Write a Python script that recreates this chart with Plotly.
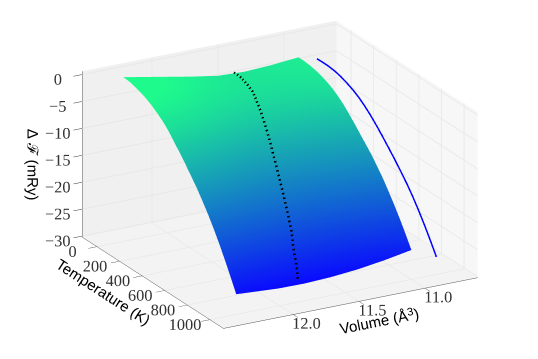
import plotly.graph_objects as go

volume = [11.0, 11.21, 11.41, 11.61, 11.81, 12.01, 12.33]
temperature = [0, 50, 100, 150, 200, 250, 300, 350, 400, 450, 500,
               550, 600, 650, 700, 750, 800, 850, 900, 950, 1000]

# one row per temperature, one column per volume
free_energy = [
    [-2.51, -2.96, -3.18, -2.96, -2.14, -1.20, 0.30],
    [-2.50, -2.95, -3.17, -2.97, -2.13, -1.22, 0.23],
    [-2.62, -3.09, -3.32, -3.12, -2.38, -1.42, -0.05],
    [-2.84, -3.32, -3.56, -3.38, -2.73, -1.70, -0.42],
    [-3.17, -3.66, -3.91, -3.80, -3.19, -2.15, -0.90],
    [-3.62, -4.13, -4.41, -4.32, -3.80, -2.75, -1.52],
    [-4.20, -4.74, -5.04, -5.02, -4.60, -3.55, -2.30],
    [-4.95, -5.51, -5.83, -5.85, -5.50, -4.45, -3.15],
    [-5.86, -6.44, -6.79, -6.88, -6.65, -5.60, -4.25],
    [-6.98, -7.60, -7.97, -8.10, -7.99, -7.04, -5.65],
    [-8.16, -8.80, -9.19, -9.35, -9.26, -8.39, -6.95],
    [-9.43, -10.09, -10.51, -10.69, -10.63, -9.83, -8.40],
    [-10.65, -11.34, -11.78, -11.99, -11.95, -11.22, -9.91],
    [-11.92, -12.63, -13.10, -13.33, -13.31, -12.66, -11.43],
    [-13.39, -14.12, -14.61, -14.86, -14.88, -14.30, -13.16],
    [-14.90, -15.66, -16.17, -16.45, -16.49, -16.03, -14.98],
    [-16.66, -17.44, -17.98, -18.28, -18.34, -17.96, -16.99],
    [-18.47, -19.29, -19.87, -20.20, -20.30, -19.95, -19.14],
    [-20.43, -21.28, -21.90, -22.27, -22.40, -22.19, -21.48],
    [-22.53, -23.42, -24.07, -24.48, -24.65, -24.52, -23.92],
    [-24.73, -25.65, -26.34, -26.78, -26.99, -26.95, -26.45],
]

# equilibrium curve
min_volume = [11.49, 11.49, 11.50, 11.51, 11.52, 11.54, 11.56, 11.58, 11.60, 11.62, 11.64,
              11.66, 11.68, 11.70, 11.72, 11.74, 11.76, 11.78, 11.81, 11.83, 11.86]
min_energy = [-3.45, -3.46, -3.55, -3.75, -4.1, -4.6, -5.2, -5.95, -6.9, -8.0, -9.25,
              -10.6, -12.0, -13.45, -14.95, -16.55, -18.3, -20.25, -22.35, -24.6, -26.95]
wall_volume = [10.86, 10.8575, 10.855, 10.8525, 10.85, 10.8475, 10.845, 10.8425, 10.84, 10.8375, 10.835,
               10.8325, 10.83, 10.8275, 10.825, 10.8225, 10.82, 10.8175, 10.815, 10.8125, 10.81]

volume_ticks = [11.0, 11.5, 12.0]
volume_labels = ["11.0", "11.5", "12.0"]
temperature_ticks = [0, 200, 400, 600, 800, 1000]
energy_ticks = [-30, -25, -20, -15, -10, -5, 0]

serif = "Liberation Serif"
sans = "Liberation Sans"

fig = go.Figure()
fig.add_surface(x=volume, y=temperature, z=free_energy,
                colorscale=[[0, "rgb(10,10,255)"], [1, "rgb(30,250,140)"]],
                cmin=-27, cmax=-1, showscale=False,
                lighting=dict(ambient=1, diffuse=0, specular=0, fresnel=0))
# lifted a little so the depth test keeps the dots in front of the surface
fig.add_scatter3d(x=min_volume, y=temperature, z=[e + 0.5 for e in min_energy], mode="lines",
                  line=dict(color="black", width=5, dash="dash"))
fig.add_scatter3d(x=wall_volume, y=temperature, z=min_energy, mode="lines",
                  line=dict(color="#0000ff", width=3))


def axis(title, ticks, rng, wall):
    return dict(title=dict(text=title, font=dict(family=sans, size=15, color="black")),
                tickvals=ticks, range=rng, autorange=False, tickangle=0,
                tickfont=dict(family=serif, size=14, color="#333333"),
                ticks="outside", ticklen=10, tickcolor="#333333",
                showline=True, linecolor="#555555", linewidth=1,
                showgrid=True, gridcolor="#e8e8e8", gridwidth=2,
                zeroline=False, showspikes=False,
                showbackground=True, backgroundcolor=wall)


fig.update_layout(
    width=538, height=359, margin=dict(l=0, r=0, t=0, b=0),
    paper_bgcolor="white", showlegend=False,
    scene=dict(
        xaxis=dict(axis("Volume (Å<sup>3</sup>)", volume_ticks, [10.6, 12.53], "#f7f7f7"), ticktext=volume_labels),
        yaxis=axis("Temperature (K)", temperature_ticks, [-130, 1120], "#f0f0f0"),
        zaxis=axis("Δ ℱ (mRy)", energy_ticks, [-30.2, 0.6], "#f3f3f3"),
        aspectmode="manual", aspectratio=dict(x=1.62, y=1.62, z=0.99),
        camera=dict(eye=dict(x=1.353, y=2.31, z=1.0), center=dict(x=0.053, y=-0.03, z=-0.03),
                    projection=dict(type="orthographic")),
    ),
)

fig.write_html("out.html", config=dict(displayModeBar=False),
               post_script="document.body.style.margin='0'")
